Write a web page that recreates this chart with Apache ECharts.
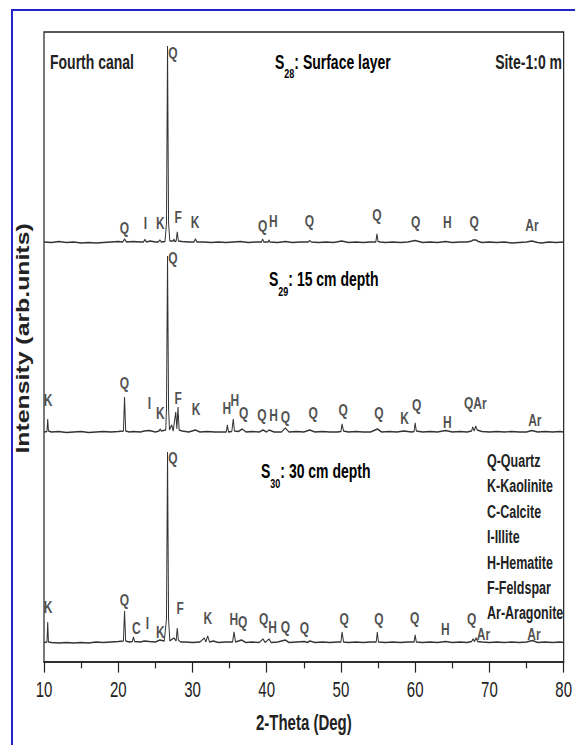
<!DOCTYPE html>
<html>
<head>
<meta charset="utf-8">
<script src="https://cdn.jsdelivr.net/npm/echarts/dist/echarts.min.js"></script>
<style>
  html, body { margin: 0; padding: 0; background: #fff; overflow: hidden; width: 575px; height: 745px; }
  /* the figure is laid out at a compressed height and stretched vertically */
  #stage { position: absolute; left: 0; top: 0; width: 575px; height: 525px; transform: scaleY(1.41905); transform-origin: 0 0; }
  #frame { position: absolute; left: 11px; top: 9px; width: 700px; height: 900px; border-left: 2px solid #2323c8; border-top: 2px solid #2323c8; pointer-events: none; }
</style>
</head>
<body>
<div id="stage"></div>
<div id="frame"></div>
<script>
const FONT = '"Liberation Sans", Arial, Helvetica, sans-serif';

// 2-theta axis
const thetaMin = 10, thetaMax = 80, thetaStep = 10;

// vertical stacking offsets of the three patterns (arb. units)
const baseS28 = 419;
const baseS29 = 229;
const baseS30 = 18;

// XRD patterns: [2-theta (deg), intensity above baseline (arb. units)]
const s28Profile = [
  [10,1],[11,0.5],[12,1.5],[13,0.5],[14,1],[15,0],[16,0.5],[17,0],[18,0.5],[19,1],[20,1.5],[20.6,1],[20.85,4],[21.1,1],
  [22,1.5],[23,1],[23.4,1],[23.6,3.5],[23.8,1],[24.3,2],[25,1],[25.4,1],[25.6,3],[25.8,1],[26.3,1.5],[26.5,20],[26.64,197],
  [26.78,20],[26.95,2],[27.4,2],[27.5,4],[27.6,1.5],[27.8,2],[27.95,11],[28.1,2],[28.6,1.5],[29.5,1],[30.2,1],[30.4,4],
  [30.6,1],[31.5,1],[32.5,0.5],[33.5,1],[34.5,0.5],[35.5,1],[36.5,1.5],[37.5,0.5],[38.5,1],[39.3,1],[39.45,4],[39.6,1],
  [40.2,1],[40.3,3],[40.45,1],[41.5,0.5],[42.5,1.5],[43.5,0.5],[44.5,1],[45.6,1],[45.8,2.5],[46,1],[47,0.5],[48,1],[49,0.5],
  [50.1,2],[51,0.5],[52,1],[53,0.5],[54,1],[54.7,1],[54.85,9],[55,1.5],[55.3,1],[56,0.5],[57,1],[58,0.5],[59,1],[60,2.5],
  [61,0.5],[62,1],[63,0.5],[64.1,1.5],[65,0.5],[66,1],[67,1],[67.6,2],[67.8,3],[68.2,3],[68.5,1.5],[69,0.5],[70,1],[71,0.5],
  [72,1],[73,0],[74,0.5],[75,1],[75.7,2],[76.5,0.5],[77,0],[78,1],[79,0.5],[80,1]
];
const s29Profile = [
  [10,1],[10.4,1.5],[10.5,14],[10.6,2],[11,1],[12,1.5],[13,0.5],[14,1],[15,1.5],[16,0.5],[17,1],[18,1.5],[19,1],[20,1.5],
  [20.7,2],[20.85,36],[21,2],[21.5,1],[22,1.5],[23,1],[23.5,2],[24.2,2.5],[25,1],[25.5,2],[25.65,4],[25.8,2],[26.4,3],
  [26.5,25],[26.64,177],[26.78,25],[26.9,3],[27.2,8],[27.4,2],[27.75,21],[27.9,4],[28.05,26],[28.2,3],[28.6,2],[29.5,1],
  [30.4,3],[31,1],[32,1.5],[33,1],[34,1],[34.55,1],[34.7,8],[34.85,1],[35.3,1.5],[35.5,14],[35.65,2],[36.2,1.5],[36.7,4],
  [37.2,1],[38,1.5],[39,1],[39.5,3],[40,1],[40.3,3],[41,1],[42,1],[42.5,5],[43,1],[44,1.5],[45,1],[45.8,3],[46.5,1],
  [47.5,1.5],[48.5,1],[49.5,1],[50,1.5],[50.15,9],[50.35,2],[51,1],[52,1.5],[53,1],[54,1],[54.9,4],[55.5,1],[56.5,1.5],
  [57.5,1],[58.5,2],[59.5,1],[59.85,1.5],[60,10],[60.15,2],[61,1],[62,1.5],[63,1],[64.1,2.5],[65,1],[66,1.5],[67,1],
  [67.6,2],[67.75,6],[67.95,2],[68.15,7],[68.35,3],[69,1.5],[70,1],[71,1.5],[72,1],[73,1.5],[74,1],[75,1],[75.7,2.5],
  [76.5,1],[77.5,1.5],[78.5,1],[79.5,1.5],[80,1]
];
const s30Profile = [
  [10,1.5],[10.4,2],[10.5,22],[10.6,2],[11,1.5],[12,1],[13,1.5],[14,1],[15,1.5],[16,1],[17,2],[18,1.5],[19,2],[20,2.5],
  [20.7,3],[20.85,33],[21,3],[21.5,2],[21.9,2.5],[22.05,7],[22.2,2.5],[23,2],[23.5,3],[24.2,2.5],[25,2],[25.6,4],[26.2,3],
  [26.5,25],[26.64,192],[26.78,25],[26.95,3],[27.5,6],[27.8,3],[27.95,16],[28.1,4],[28.4,2],[29,2],[30,1.5],[31,2],
  [31.6,6],[31.8,2],[32.05,8],[32.3,2],[32.8,3],[33.5,1.5],[34.5,2],[35.4,2],[35.6,12],[35.8,2],[36.6,4],[37.2,1.5],
  [38,2],[39,1.5],[39.5,5],[39.8,1.5],[40.3,5],[40.6,1.5],[41.5,2],[42.5,4],[43,1.5],[44,2],[45.1,2.5],[45.5,1.5],
  [45.8,3],[46.5,1.5],[47.5,2],[48.5,1.5],[49.5,2],[50,2],[50.15,12],[50.35,2],[51,1.5],[52,2],[53,1.5],[54,2],[54.75,2],
  [54.9,12],[55.05,2],[56,1.5],[57,2],[58,1.5],[59,2],[59.85,2],[60,9],[60.15,2],[61,1.5],[62,2],[63,1.5],[64.1,2.5],
  [65,1.5],[66,2],[67,1.5],[67.6,2.5],[67.8,5],[68,2.5],[68.2,6],[68.4,2.5],[69,2],[70,1.5],[71,2],[72,1.5],[73,2],
  [74,1.5],[75,2],[75.8,3.5],[76.5,1.5],[77.5,2],[78.5,1.5],[79.5,2],[80,1.5]
];

// phase tags: [2-theta, height above baseline, phase code]
const s28Tags = [
  [20.84,15,'Q'],[23.65,20,'I'],[25.66,20,'K'],[27.35,190,'Q'],[28.07,26,'F'],[30.34,21,'K'],[39.45,17,'Q'],[40.9,22,'H'],
  [45.74,22,'Q'],[54.84,28,'Q'],[60.06,21,'Q'],[64.34,21,'H'],[67.95,21,'Q'],[75.72,18,'Ar']
];
const s29Tags = [
  [10.54,33,'K'],[20.84,50,'Q'],[24.19,30,'I'],[25.66,20,'K'],[27.35,175,'Q'],[28.07,35,'F'],[30.48,24,'K'],[34.63,25,'H'],
  [35.7,33,'H'],[36.9,20,'Q'],[39.36,18,'Q'],[40.92,18,'H'],[42.52,16,'Q'],[46.27,20,'Q'],[50.29,23,'Q'],[55.1,20,'Q'],
  [58.58,15,'K'],[60.19,28,'Q'],[64.34,11,'H'],[68.09,30,'QAr'],[76.12,13,'Ar']
];
const s30Tags = [
  [10.54,37,'K'],[20.84,44,'Q'],[22.45,16,'C'],[23.92,21,'I'],[25.66,12,'K'],[27.35,186,'Q'],[28.34,36,'F'],[32.08,26,'K'],
  [35.56,25,'H'],[36.77,22,'Q'],[39.58,25,'Q'],[40.78,17,'H'],[42.52,17,'Q'],[45.07,16,'Q'],[50.42,25,'Q'],[55.1,25,'Q'],
  [59.92,26,'Q'],[64.07,15,'H'],[67.6,25,'Q'],[69.2,10,'Ar'],[75.99,10,'Ar']
];

const phaseKey = ['Q-Quartz','K-Kaolinite','C-Calcite','I-Illite','H-Hematite','F-Feldspar','Ar-Aragonite'];

function lift(points, base) { return points.map(p => [p[0], p[1] + base]); }
function tagData(points, base) { return points.map(p => ({ name: p[2], value: [p[0], p[1] + base] })); }

function patternSeries(name, points, base) {
  return {
    name: name, type: 'line', data: lift(points, base), showSymbol: false, symbol: 'none',
    lineStyle: { color: '#333', width: 1 }, z: 2, silent: true, animation: false
  };
}
function tagSeries(points, base) {
  return {
    type: 'scatter', data: tagData(points, base), symbol: 'circle', symbolSize: 1,
    itemStyle: { color: 'transparent' }, silent: true, animation: false, z: 3,
    label: { show: true, position: 'inside', formatter: p => p.name, color: '#222',
             fontSize: 12, fontWeight: 'bold', fontFamily: FONT }
  };
}

const titleRich = {
  m: { fontSize: 14, fontWeight: 'bold', fontFamily: FONT, color: '#222', lineHeight: 14, verticalAlign: 'top' },
  sub: { fontSize: 9, fontWeight: 'bold', fontFamily: FONT, color: '#222', lineHeight: 30, verticalAlign: 'middle' }
};
function sampleTitle(x, yTop, code, rest) {
  return { type: 'text', x: x, y: yTop, z: 10, silent: true,
    style: { text: '{m|S}{sub|' + code + '}{m|' + rest + '}', rich: titleRich,
             align: 'left', textAlign: 'left', verticalAlign: 'top', textVerticalAlign: 'top' } };
}
function plainText(x, y, txt, size, align, vAlign, extra) {
  return Object.assign({ type: 'text', x: x, y: y, z: 10, silent: true,
    style: { text: txt, fontSize: size, fontWeight: 'bold', fontFamily: FONT, fill: '#222', lineHeight: size,
             align: align, textAlign: align, verticalAlign: vAlign, textVerticalAlign: vAlign } }, extra || {});
}

// phase key, one entry per line in the lower panel
const keyTexts = phaseKey.map((t, i) => plainText(487, 324.6 + i * 17.9, t, 12.5, 'left', 'middle'));

const chart = echarts.init(document.getElementById('stage'), null, { renderer: 'svg' });
chart.setOption({
  animation: false,
  backgroundColor: '#fff',
  grid: { left: 44, right: 8, top: 22.55, bottom: 58.5, show: true, borderColor: '#222', borderWidth: 1.2 },
  xAxis: {
    type: 'value', min: thetaMin, max: thetaMax, interval: thetaStep,
    axisLine: { show: true, onZero: false, lineStyle: { color: '#222', width: 1.2 } },
    axisTick: { show: true, inside: false, length: 7.5, lineStyle: { color: '#222', width: 1.2 } },
    minorTick: { show: true, splitNumber: 2, length: 4.5, lineStyle: { color: '#222', width: 1.2 } },
    splitLine: { show: false },
    axisLabel: { color: '#222', fontSize: 15, fontFamily: FONT, margin: 12 },
    name: '2-Theta (Deg)', nameLocation: 'middle', nameGap: 35,
    nameTextStyle: { color: '#222', fontSize: 15, fontWeight: 'bold', fontFamily: FONT }
  },
  yAxis: { type: 'value', min: 0, max: 630, show: false },
  series: [
    patternSeries('S28', s28Profile, baseS28),
    patternSeries('S29', s29Profile, baseS29),
    patternSeries('S30', s30Profile, baseS30),
    tagSeries(s28Tags, baseS28),
    tagSeries(s29Tags, baseS29),
    tagSeries(s30Tags, baseS30)
  ],
  graphic: [
    plainText(50, 43.7, 'Fourth canal', 14, 'left', 'middle'),
    plainText(562, 43.7, 'Site-1:0 m', 14, 'right', 'middle'),
    sampleTitle(275, 36.7, '28', ': Surface layer'),
    sampleTitle(269, 190, '29', ': 15 cm depth'),
    sampleTitle(261, 325.3, '30', ': 30 cm depth'),
    plainText(23, 238.5, 'Intensity (arb.units)', 17.5, 'center', 'middle', { rotation: Math.PI / 2 })
  ].concat(keyTexts)
});
</script>
</body>
</html>
